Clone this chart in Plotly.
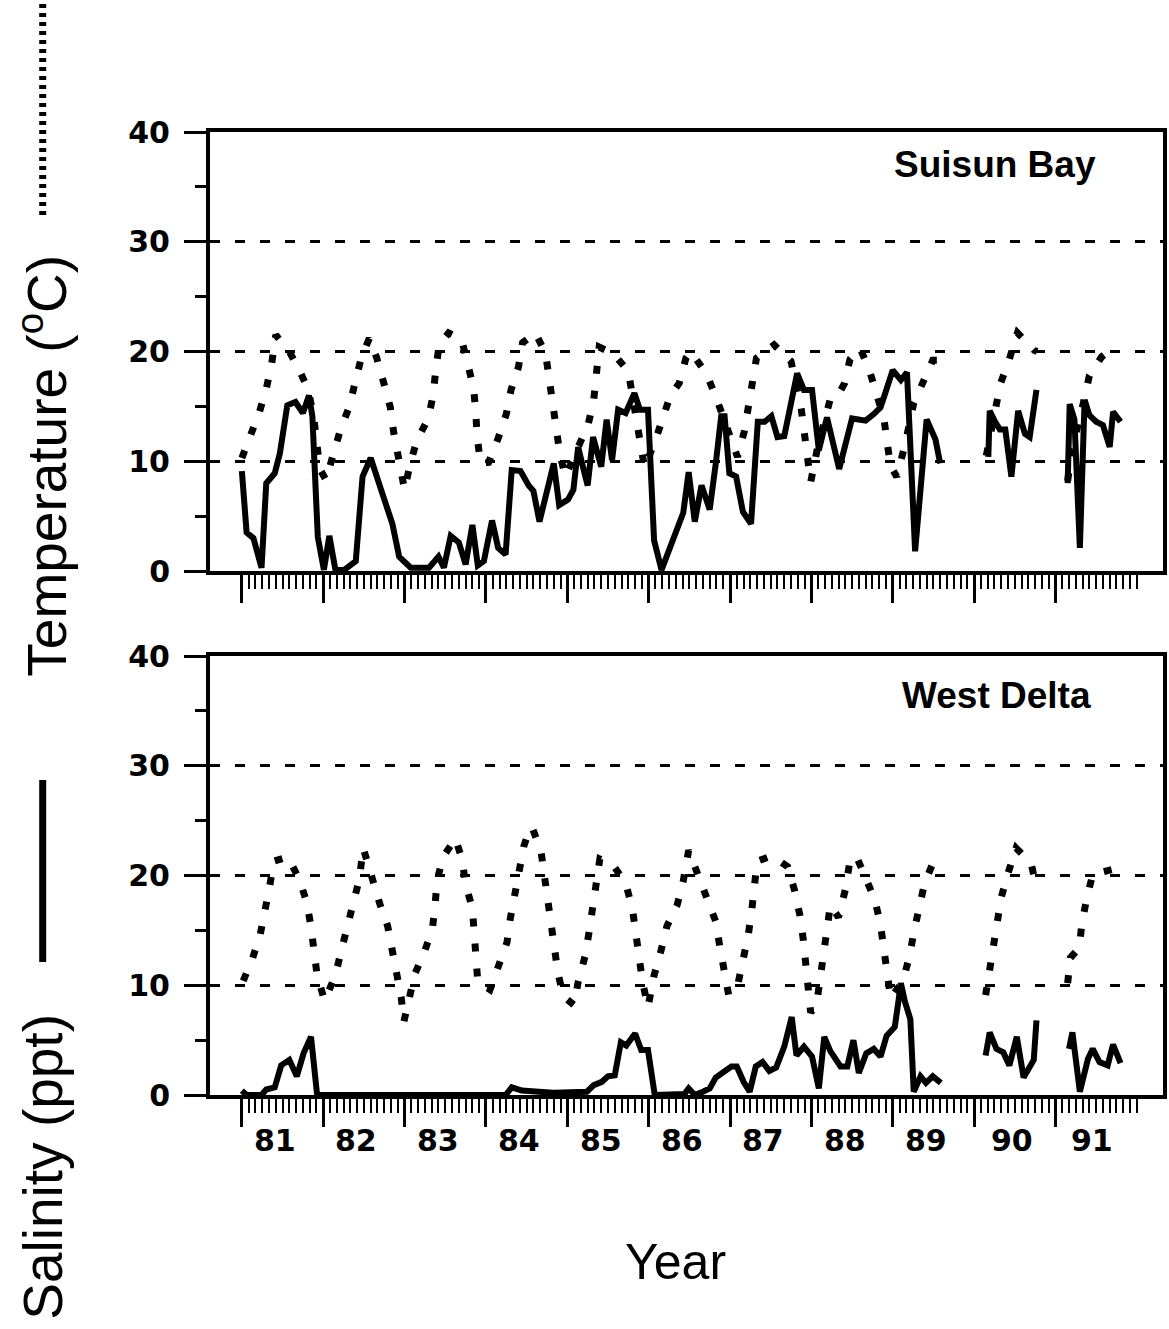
import plotly.graph_objects as go

# ---------------- data (x = months since Jan 1981) ----------------
sb_sal_month = [0, 0.7, 1.7, 2.9, 3.6, 4.85, 5.6, 6.7, 7.9, 9.0, 9.9, 10.4, 11.2, 12.1, 12.9, 13.8, 15.1,
                16.8, 17.8, 19.0, 20.7, 22.2, 23.2, 24.9, 27.6, 29.0, 29.8, 30.8, 32.0, 33.0, 34.0, 34.8,
                35.7, 36.9, 37.8, 38.9, 39.8, 41.1, 42.3, 43.0, 43.9, 45.0, 46.0, 46.8, 48.1, 48.9, 49.6,
                50.1, 51.0, 51.8, 53.0, 53.8, 54.6, 55.5, 56.6, 57.9, 58.7, 59.9, 60.8, 61.9, 62.9, 64.1,
                65.1, 65.9, 66.8, 67.8, 69.0, 69.9, 70.7, 71.2, 71.9, 72.9, 73.9, 75.1, 76.1, 77.1, 78.1,
                79.0, 80.0, 81.9, 82.9, 84.1, 85.1, 86.3, 88.1, 90.0, 92.0, 93.2, 94.2, 95.0, 96.0, 97.2,
                98.1, 99.3, 101.0, 102.3, 103.0, None,
                110.1, 110.3, 111.1, 111.8, 112.6, 113.5, 114.5, 115.5, 116.2, 117.2, None,
                121.8, 122.1, 122.8, 123.6, 124.3, 125.0, 126.0, 127.0, 128.0, 128.5, 129.6]
sb_sal = [9.1, 3.5, 3.0, 0.3, 8.0, 8.9, 10.7, 15.1, 15.4, 14.4, 16.0, 14.1, 3.1, 0.1, 3.2, 0.1, 0.1,
          0.9, 8.6, 10.3, 7.1, 4.3, 1.3, 0.3, 0.3, 1.3, 0.3, 3.2, 2.6, 0.6, 4.2, 0.5,
          0.9, 4.6, 2.1, 1.5, 9.2, 9.1, 7.8, 7.3, 4.5, 7.4, 9.8, 6.0, 6.5, 7.4, 11.3,
          10.0, 7.8, 12.2, 9.5, 13.8, 10.1, 14.7, 14.4, 16.2, 14.7, 14.7, 2.8, 0.1, 1.7, 3.5,
          5.3, 9.0, 4.5, 7.8, 5.6, 9.8, 14.1, 14.1, 8.9, 8.6, 5.4, 4.3, 13.6, 13.6, 14.1,
          12.2, 12.3, 18.0, 16.5, 16.5, 11.0, 14.0, 9.3, 13.9, 13.7, 14.3, 14.9, 16.4, 18.3, 17.4,
          18.1, 1.8, 13.8, 12.0, 9.8, None,
          10.4, 14.6, 13.6, 12.9, 12.9, 8.6, 14.6, 12.5, 12.2, 16.5, None,
          8.0, 15.2, 13.8, 2.1, 15.6, 14.2, 13.6, 13.3, 11.3, 14.5, 13.6]

sb_temp_month = [0, 1.4, 2.6, 3.6, 4.4, 5.0, 7.0, 8.7, 9.8, 10.6, 11.1, 11.5, 12.4, 13.4, 14.5, 15.8,
                 16.8, 17.6, 18.8, 19.9, 20.9, 21.9, 22.4, 23.0, 24.0, 24.8, 25.8, 27.5, 28.2, 28.6,
                 29.1, 30.5, 32.4, 33.3, 34.2, 34.5, 34.7, 35.2, 36.4, 37.8, 39.0, 39.7, 40.8, 41.4,
                 43.3, 44.8, 45.3, 45.7, 46.3, 46.9, 47.7, 49.6, 51.1, 51.9, 52.4, 52.7, 54.8, 57.0,
                 58.0, 58.7, 59.4, 61.1, 62.1, 63.2, 64.5, 65.5, 66.2, 68.5, 69.9, 71.6, 73.1, 74.1,
                 74.6, 75.4, 75.9, 78.5, 81.0, 82.5, 82.9, 83.4, 83.9, 85.0, 86.8, 87.8, 88.9, 89.7,
                 91.2, 92.6, 93.8, 94.7, 95.2, 95.7, 96.6, 97.8, 99.1, 100.4, 101.9, 102.8, None,
                 109.8, 110.5, 111.1, 111.9, 113.1, 114.4, 116.9, 117.3, None,
                 121.8, 122.4, 124.0, 125.0, 126.8, 127.8]
sb_temp = [10.3, 12.4, 14.5, 16.6, 18.9, 21.5, 20.0, 18.0, 16.5, 14.0, 11.5, 9.3, 8.3, 10.6, 12.8, 14.9,
           17.1, 19.4, 21.2, 19.4, 17.2, 14.9, 12.6, 10.5, 7.4, 9.7, 11.9, 13.9, 16.0, 18.3,
           20.6, 21.7, 21.1, 18.9, 16.6, 14.4, 12.3, 9.8, 9.9, 12.1, 14.3, 16.5, 18.6, 20.8,
           21.7, 19.8, 17.4, 15.3, 12.9, 10.7, 8.6, 11.3, 13.4, 15.6, 17.9, 20.4, 19.8, 18.2,
           14.5, 11.6, 9.4, 12.1, 14.1, 16.0, 17.1, 19.4, 20.0, 18.0, 15.9, 13.0, 10.4, 12.7,
           14.8, 17.1, 19.4, 20.6, 19.1, 14.8, 12.5, 10.4, 8.1, 11.5, 15.7, 15.9, 17.1, 19.3,
           20.3, 18.2, 16.0, 13.9, 11.6, 9.5, 8.6, 11.5, 15.3, 17.2, 19.2, 19.2, None,
           10.5, 12.7, 14.9, 17.1, 19.1, 21.7, 20.1, 20.0, None,
           8.2, 11.0, 15.0, 17.8, 19.5, 20.0]

wd_sal_month = [0, 0.7, 2.9, 3.6, 4.85, 5.8, 7.0, 8.1, 9.1, 10.2, 11.1, 38.9, 39.8, 41.3, 43.8, 46.0,
                50.9, 51.9, 53.1, 54.0, 55.0, 55.9, 56.7, 58.0, 58.9, 59.9, 60.9, 65.3, 65.9, 66.8,
                68.0, 69.0, 69.9, 71.2, 72.2, 73.0, 74.0, 74.9, 75.8, 76.8, 77.8, 78.8, 80.0, 81.1,
                81.8, 82.9, 84.1, 85.1, 85.9, 86.8, 88.3, 89.3, 90.2, 91.0, 92.1, 93.2, 94.2, 95.1,
                96.3, 96.9, 97.2, 97.8, 98.6, 99.1, 100.1, 100.9, 101.9, 103.1, None,
                109.7, 110.3, 111.3, 112.3, 113.2, 114.3, 115.3, 116.2, 116.8, 117.2, None,
                122.0, 122.5, 123.6, 124.8, 125.5, 126.5, 127.7, 128.5, 129.6]
wd_sal = [0.4, 0.0, 0.0, 0.5, 0.7, 2.7, 3.2, 1.7, 3.8, 5.3, 0.0, 0.0, 0.7, 0.4, 0.3, 0.2,
          0.3, 0.9, 1.2, 1.7, 1.8, 4.8, 4.5, 5.6, 4.1, 4.1, 0.0, 0.1, 0.6, 0.0,
          0.3, 0.6, 1.6, 2.2, 2.6, 2.6, 1.2, 0.3, 2.6, 3.0, 2.2, 2.5, 4.4, 7.1,
          3.6, 4.4, 3.5, 0.6, 5.3, 4.0, 2.6, 2.6, 5.0, 2.0, 3.8, 4.2, 3.5, 5.4,
          6.2, 8.8, 10.2, 8.5, 6.9, 0.3, 1.7, 1.1, 1.7, 1.1, None,
          3.6, 5.7, 4.2, 3.9, 2.7, 5.3, 1.6, 2.6, 3.2, 6.8, None,
          4.2, 5.7, 0.3, 3.3, 4.2, 3.0, 2.7, 4.6, 2.9]

wd_temp_month = [0.2, 1.6, 2.7, 3.5, 4.1, 4.7, 6.8, 8.5, 9.6, 10.2, 10.7, 11.1, 12.2, 13.8, 14.6, 15.5,
                 16.4, 17.3, 17.9, 19.1, 20.3, 21.5, 22.2, 22.9, 23.5, 23.9, 25.5, 26.9, 28.1, 28.5,
                 28.8, 29.7, 31.5, 32.5, 33.0, 34.0, 34.3, 34.5, 34.8, 36.6, 38.0, 39.1, 39.6, 40.3,
                 41.6, 42.5, 42.8, 44.1, 44.6, 45.2, 45.6, 46.1, 46.6, 47.4, 49.0, 49.6, 50.6, 51.2,
                 51.8, 52.3, 52.8, 54.7, 56.6, 57.6, 58.1, 58.5, 59.1, 59.9, 60.8, 61.8, 62.7, 64.2,
                 65.1, 65.9, 67.3, 68.6, 69.9, 70.5, 71.1, 71.8, 73.2, 74.1, 74.7, 75.2, 75.6, 76.0,
                 78.2, 80.5, 81.5, 82.3, 82.8, 83.2, 83.5, 83.9, 84.8, 85.3, 85.7, 86.2, 86.8, 88.0,
                 89.0, 89.6, 90.6, 92.0, 93.4, 94.2, 94.7, 95.1, 95.7, 97.5, 98.5, 99.1, 99.8, 100.7,
                 102.1, None,
                 109.7, 110.3, 110.8, 111.3, 112.0, 113.0, 114.2, 116.4, 117.2, None,
                 121.8, 122.2, 123.5, 123.9, 124.6, 125.5, 128.7]
wd_temp = [10.4, 12.5, 14.6, 16.8, 19.0, 21.3, 21.7, 19.6, 17.5, 15.3, 13.1, 10.9, 8.6, 10.9, 13.0, 15.2,
           17.3, 19.6, 22.5, 19.7, 17.5, 15.4, 13.2, 11.0, 8.9, 6.7, 11.0, 13.0, 15.1, 17.3,
           19.6, 21.7, 23.4, 21.4, 19.2, 17.0, 14.8, 12.5, 10.3, 9.6, 11.8, 13.9, 16.1, 18.3,
           22.7, 24.3, 24.4, 22.3, 20.1, 17.9, 15.7, 13.5, 11.2, 9.0, 8.2, 10.3, 12.6, 14.8,
           17.0, 19.3, 21.5, 21.0, 19.3, 17.0, 14.8, 12.6, 10.3, 8.0, 10.9, 13.1, 15.4, 17.3,
           19.5, 22.3, 20.0, 17.9, 15.8, 13.5, 11.3, 9.1, 10.2, 12.5, 14.6, 16.8, 19.1, 21.3,
           21.8, 20.8, 18.7, 16.4, 14.2, 11.9, 9.6, 7.5, 8.4, 10.7, 12.9, 15.1, 17.3, 16.2,
           18.7, 21.0, 21.8, 19.8, 17.7, 15.5, 13.4, 11.1, 8.8, 10.4, 12.7, 14.8, 17.0, 19.3,
           21.4, None,
           9.1, 11.4, 13.6, 15.8, 18.0, 20.2, 22.5, 21.1, 19.0, None,
           10.2, 12.5, 13.4, 15.6, 17.9, 20.1, 20.6]

year_labels = ["81", "82", "83", "84", "85", "86", "87", "88", "89", "90", "91"]
year_label_pos = [4.9, 16.9, 28.9, 40.9, 52.9, 64.9, 76.9, 88.9, 100.9, 113.6, 125.4]
year_starts = [0, 12, 24, 36, 48, 60, 72, 84, 96, 108, 120]
month_ticks = [m for m in range(1, 133) if m % 12 != 0 or m > 120]
y_major = [0, 10, 20, 30, 40]
y_minor = [5, 15, 25, 35]

# ---------------- figure ----------------
fig = go.Figure()
dot_style = dict(color="black", width=7, dash="8px,17px")
solid_style = dict(color="black", width=6)

fig.add_trace(go.Scatter(x=sb_temp_month, y=sb_temp, mode="lines", line=dot_style,
                         xaxis="x", yaxis="y", connectgaps=False, showlegend=False))
fig.add_trace(go.Scatter(x=sb_sal_month, y=sb_sal, mode="lines", line=solid_style,
                         xaxis="x", yaxis="y", connectgaps=False, showlegend=False))
fig.add_trace(go.Scatter(x=wd_temp_month, y=wd_temp, mode="lines", line=dot_style,
                         xaxis="x2", yaxis="y2", connectgaps=False, showlegend=False))
fig.add_trace(go.Scatter(x=wd_sal_month, y=wd_sal, mode="lines", line=solid_style,
                         xaxis="x2", yaxis="y2", connectgaps=False, showlegend=False))

W, H = 1169, 1329
L, R, T, B = 210, 2, 132, 234
ph = H - T - B
pw = W - L - R
px_per_month = 81.7 / 12
xr = [-(242 - L) / px_per_month, (W - R - 242) / px_per_month]


def py(ypix):
    return (H - B - ypix) / ph


def pxp(xpix):
    return (xpix - L) / pw


xaxis_common = dict(range=xr, showline=True, linewidth=4, linecolor="black", mirror=True,
                    ticks="outside", tickmode="array", tickvals=year_starts, ticklen=28, tickwidth=3,
                    tickcolor="black", showticklabels=False, showgrid=False, zeroline=False,
                    minor=dict(tickmode="array", tickvals=month_ticks, ticks="outside", ticklen=14,
                               tickwidth=2, tickcolor="black", showgrid=False))
yaxis_common = dict(range=[0, 40], showline=True, linewidth=4, linecolor="black", mirror=True,
                    ticks="outside", tickmode="array", tickvals=y_major, ticklen=22, tickwidth=3,
                    tickcolor="black", showgrid=True, gridcolor="black", gridwidth=3,
                    griddash="10px,15px", zeroline=False, ticklabelstandoff=8,
                    tickfont=dict(family="DejaVu Sans", size=30, color="black", weight="bold"),
                    minor=dict(tickmode="array", tickvals=y_minor, ticks="outside", ticklen=11,
                               tickwidth=3, tickcolor="black", showgrid=False))

fig.update_layout(
    width=W, height=H, margin=dict(l=L, r=R, t=T, b=B),
    paper_bgcolor="white", plot_bgcolor="white", showlegend=False,
    xaxis=dict(domain=[0, 1], anchor="y", **xaxis_common),
    xaxis2=dict(domain=[0, 1], anchor="y2", **xaxis_common),
    yaxis=dict(domain=[py(571), 1], anchor="x", **yaxis_common),
    yaxis2=dict(domain=[0, py(656)], anchor="x2", **yaxis_common),
)

ann = []
ann.append(dict(text="Suisun Bay", x=pxp(998), y=py(164), xref="paper", yref="paper",
                showarrow=False, xanchor="center", yanchor="middle",
                font=dict(family="Liberation Sans", size=37, color="black", weight="bold")))
ann.append(dict(text="West Delta", x=pxp(1000), y=py(695), xref="paper", yref="paper",
                showarrow=False, xanchor="center", yanchor="middle",
                font=dict(family="Liberation Sans", size=37, color="black", weight="bold")))
for lab, pos in zip(year_labels, year_label_pos):
    ann.append(dict(text=lab, x=pos, y=py(1140), xref="x2", yref="paper", showarrow=False,
                    xanchor="center", yanchor="middle",
                    font=dict(family="DejaVu Sans", size=30, color="black", weight="bold")))
ann.append(dict(text="Year", x=pxp(677), y=py(1262), xref="paper", yref="paper", showarrow=False,
                xanchor="center", yanchor="middle",
                font=dict(family="Liberation Sans", size=50, color="black")))
ann.append(dict(text="Temperature (<sup>o</sup>C)", x=pxp(42), y=py(466), xref="paper", yref="paper",
                showarrow=False, textangle=-90, xanchor="center", yanchor="middle",
                font=dict(family="Liberation Sans", size=55, color="black")))
ann.append(dict(text="Salinity (ppt)", x=pxp(42), y=py(1167), xref="paper", yref="paper",
                showarrow=False, textangle=-90, xanchor="center", yanchor="middle",
                font=dict(family="Liberation Sans", size=55, color="black")))
fig.update_layout(annotations=ann)

fig.add_shape(type="line", xref="paper", yref="paper", x0=pxp(42), x1=pxp(42), y0=py(215), y1=py(4),
              line=dict(color="black", width=7, dash="4px,5px"))
fig.add_shape(type="line", xref="paper", yref="paper", x0=pxp(42), x1=pxp(42), y0=py(962), y1=py(780),
              line=dict(color="black", width=7))

fig.write_html("out.html")
